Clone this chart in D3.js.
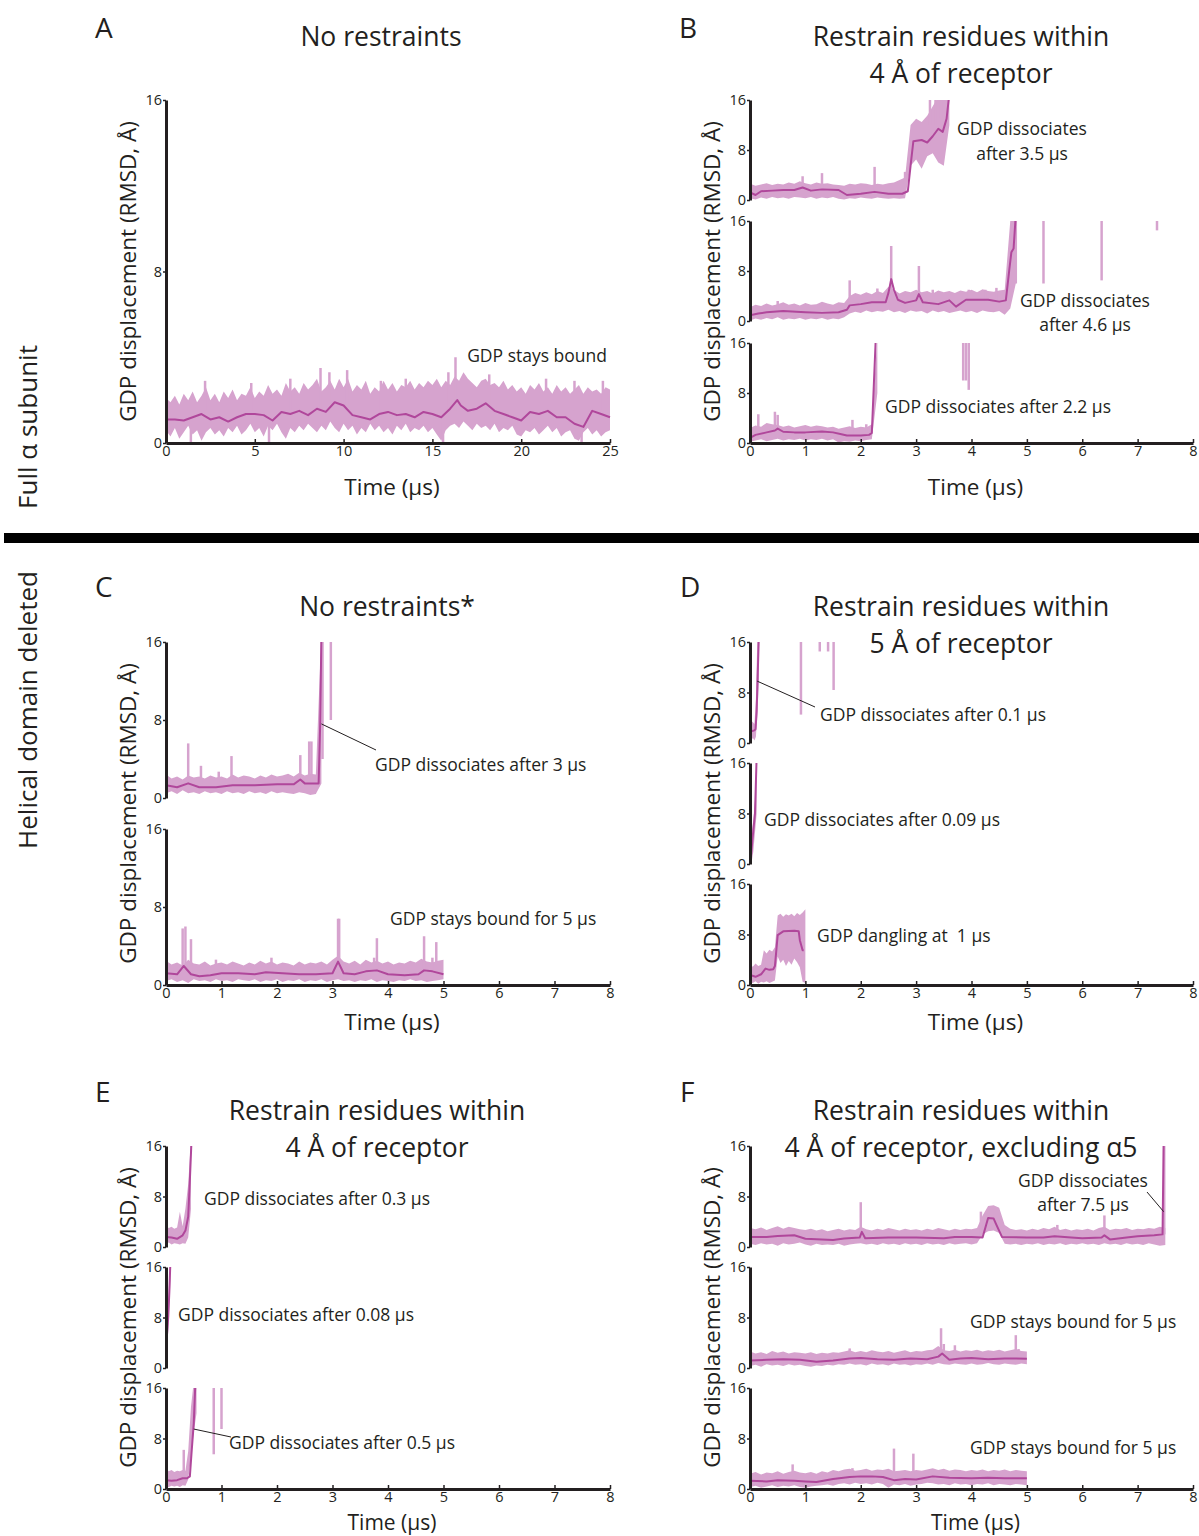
<!DOCTYPE html>
<html>
<head>
<meta charset="utf-8">
<script src="https://cdn.jsdelivr.net/npm/d3@7"></script>
<style>
  body { margin: 0; background: #fff; }
  text { font-family: 'Open Sans', sans-serif; fill: #231f20; }
</style>
</head>
<body>
<svg id="fig" width="1199" height="1536"></svg>
<script>
// ---------- data (RMSD in Å, time in µs) ----------
// each trace: smoothed line as [t, value], raw band as upper/lower values spread evenly over [0, end],
// spikes/fragments of the raw trace as [t, from, to]

// A - full alpha, no restraints
var aMean = [[0,1.1],[0.5,1.1],[1,1.05],[1.5,1.2],[2,1.35],[2.5,1.1],[3,1.2],[3.5,1.0],[4,1.2],[4.5,1.35],[5,1.35],[5.5,1.3],[6,1.05],[6.5,1.45],[7,1.35],[7.5,1.5],[8,1.3],[8.5,1.6],[9,1.45],[9.5,1.9],[10,1.75],[10.5,1.3],[11,1.2],[11.5,1.1],[12,1.35],[12.5,1.45],[13,1.3],[13.5,1.35],[14,1.2],[14.5,1.45],[15,1.35],[15.5,1.2],[16,1.6],[16.4,2.0],[16.6,1.75],[17,1.5],[17.5,1.6],[18,1.85],[18.5,1.5],[19,1.35],[19.5,1.2],[20,1.05],[20.5,1.45],[21,1.35],[21.5,1.5],[22,1.2],[22.5,1.2],[23,0.9],[23.5,0.75],[24,1.5],[24.5,1.35],[25,1.2]];
var aHi = [2.1,1.9,2.2,1.8,2.3,2.0,2.4,1.9,2.2,2.6,2.0,2.3,1.9,2.4,2.1,2.5,2.0,2.3,2.2,2.6,2.1,2.4,2.2,2.7,2.3,2.5,2.2,2.8,2.4,2.6,2.3,2.8,2.5,2.7,3.0,2.4,2.6,2.9,2.5,3.0,2.6,3.0,2.4,2.7,2.5,2.9,2.3,2.6,2.4,2.9,2.5,2.8,2.4,2.7,2.6,2.9,2.5,2.8,2.6,2.9,2.7,3.0,2.6,2.9,2.7,3.1,2.9,3.3,3.0,2.8,2.6,2.9,3.0,2.7,2.8,2.6,2.9,2.5,2.7,2.4,2.6,2.3,2.7,2.5,2.8,2.4,2.6,2.3,2.7,2.4,2.6,2.3,2.5,2.7,2.3,2.6,2.4,2.5,2.3,2.6,2.5];
var aLo = [0.6,0.3,0.7,0.2,0.5,0.8,0.4,0.6,0.1,0.5,0.7,0.4,0.6,0.3,0.7,0.5,0.8,0.4,0.6,0.9,0.5,0.7,0.3,0.8,0.6,0.9,0.5,0.2,0.7,0.5,0.8,0.6,0.9,0.7,0.5,0.8,0.6,1.0,0.7,0.5,0.9,0.6,0.8,0.4,0.7,0.5,0.9,0.6,0.8,0.5,0.7,0.4,0.8,0.6,0.9,0.5,0.7,0.6,0.8,0.5,0.7,0.4,0.1,0.6,0.8,0.9,0.7,1.0,0.8,0.6,0.9,0.7,0.8,0.6,0.9,0.5,0.7,0.6,0.8,0.4,0.3,0.6,0.5,0.7,0.4,0.6,0.8,0.5,0.7,0.3,0.5,0.6,0.2,0.1,0.5,0.7,0.4,0.6,0.3,0.5,0.6];
var aSpikes = [[2.2,1.5,2.9],[4.8,1.5,2.8],[7.0,1.5,3.0],[8.7,1.5,3.5],[9.2,1.5,3.3],[10.2,1.5,3.4],[12.1,1.5,2.9],[13.5,1.5,3.0],[15.9,1.5,3.3],[16.3,1.5,4.0],[18.2,1.5,3.2],[21.4,1.5,3.0],[23.0,1.5,2.9],[24.6,1.5,2.9],[1.4,0,1],[5.8,0,1],[15.6,0,1],[23.4,0,1]];

// B - full alpha, 4 Å restraints, three runs
var b1Mean = [[0,1.2],[0.1,0.8],[0.2,1.4],[0.4,1.5],[0.6,1.6],[0.8,1.6],[0.95,2.0],[1.1,1.5],[1.3,1.7],[1.6,1.6],[1.75,0.8],[2.0,1.0],[2.25,1.3],[2.5,1.0],[2.75,1.0],[2.85,1.4],[2.9,5.5],[2.95,9.4],[3.1,9.6],[3.2,9.2],[3.3,10.2],[3.4,11.4],[3.48,10.9],[3.55,13.0],[3.6,17]];
var b1Hi = [2.6,2.3,2.5,2.7,2.4,2.6,2.5,2.8,2.6,3.0,2.7,2.5,2.8,2.6,2.7,2.5,2.4,2.3,2.6,2.5,2.7,2.6,2.4,2.6,2.5,2.7,2.8,3.2,3.6,12.0,13.0,12.5,13.5,15.0,16.5,17,17];
var b1Lo = [0.3,0.1,0.4,0.2,0.5,0.3,0.4,0.2,0.5,0.4,0.3,0.5,0.2,0.4,0.3,0.5,0.2,0.1,0.3,0.2,0.4,0.3,0.2,0.4,0.3,0.2,0.3,0.2,0.3,5.5,6.5,5.0,7.0,7.5,6.0,5.5,12];
var b1Spikes = [[0.95,1.5,3.8],[1.3,1.5,4.3],[2.25,1.2,5.3],[2.8,1.2,4.5],[3.25,12,16.5],[3.35,12,16.5],[3.45,13,17]];

var b2Mean = [[0,0.9],[0.15,1.2],[0.3,1.4],[0.6,1.6],[1.0,1.4],[1.3,1.3],[1.6,1.4],[1.75,1.8],[1.8,2.5],[2.0,2.7],[2.2,3.0],[2.45,3.0],[2.5,4.5],[2.55,6.7],[2.6,5.0],[2.67,3.4],[2.8,2.9],[3.0,3.3],[3.05,4.3],[3.12,3.0],[3.4,2.7],[3.6,3.3],[3.72,2.3],[3.9,3.4],[4.1,3.4],[4.3,3.4],[4.5,3.1],[4.62,3.3],[4.68,8],[4.72,11],[4.76,11.6],[4.8,17]];
var b2Hi = [2.2,2.6,2.4,2.8,2.5,2.7,3.0,2.6,2.8,2.5,2.9,2.6,2.7,3.1,2.8,2.6,3.0,2.9,4.0,4.5,4.2,4.6,4.3,4.8,4.5,5.5,5.0,4.4,4.8,4.6,5.0,4.6,4.8,4.4,4.9,4.6,4.8,4.5,4.9,4.7,5.0,4.6,5.1,4.8,4.7,4.9,5.0,16,17];
var b2Lo = [0.1,0.4,0.2,0.5,0.3,0.6,0.2,0.4,0.3,0.5,0.2,0.4,0.3,0.5,0.2,0.4,0.3,0.6,1.2,1.5,1.3,1.7,1.4,1.6,1.5,1.8,1.4,1.6,1.3,1.7,1.5,1.6,1.2,1.7,1.4,1.6,1.3,1.5,1.7,1.4,1.6,1.3,1.7,1.5,1.4,1.6,1.0,2.0,6.0];
var b2Spikes = [[0.5,1.5,3.2],[1.8,2.5,6.5],[2.3,3,5.2],[2.55,4,12],[3.05,3,8.8],[3.3,3,5.0],[3.95,3,5.0],[4.25,3,5.0],[4.45,3,5.3],[4.77,10,16.5],[4.8,6,16.5],[5.3,6,16.5],[6.35,6.5,16.5],[7.35,14.5,16.5]];

var b3Mean = [[0,0.8],[0.1,1.3],[0.3,1.7],[0.45,2.0],[0.5,2.3],[0.6,1.8],[0.8,1.7],[1.0,1.7],[1.3,1.85],[1.5,1.7],[1.65,1.4],[1.75,1.2],[2.0,1.2],[2.15,1.3],[2.2,1.6],[2.27,16.5]];
var b3Hi = [2.4,2.8,2.6,3.2,3.0,2.9,2.6,2.8,2.5,2.7,2.9,2.6,2.8,2.7,2.5,2.6,2.3,2.5,2.7,2.4,2.6,2.5,3.0,17];
var b3Lo = [0.2,0.4,0.6,0.3,0.5,0.7,0.4,0.6,0.5,0.7,0.4,0.6,0.5,0.7,0.4,0.6,0.1,0.3,0.2,0.4,0.3,0.5,0.6,8];
var b3Spikes = [[0.15,2,4.6],[0.45,2,5.0],[0.5,2,4.5],[1.85,1.5,3.7],[2.1,1.5,3.0],[3.85,10,16.5],[3.9,10,16.5],[3.95,8.5,16.5]];

// C - helical domain deleted, no restraints
var c1Mean = [[0,1.3],[0.2,1.1],[0.4,1.5],[0.6,1.1],[0.9,1.1],[1.2,1.3],[1.6,1.3],[2.0,1.4],[2.3,1.4],[2.42,1.9],[2.5,1.5],[2.75,1.5],[2.78,8],[2.8,17]];
var c1Hi = [2.4,2.0,2.2,1.9,2.3,2.1,2.2,2.0,2.3,2.1,2.2,2.0,2.4,2.1,2.3,2.2,2.0,2.3,2.1,2.4,2.2,2.3,2.5,2.2,2.6,2.3,2.5,2.4,17];
var c1Lo = [0.5,0.7,0.4,0.8,0.5,0.6,0.4,0.7,0.5,0.6,0.4,0.7,0.5,0.6,0.4,0.7,0.5,0.6,0.4,0.7,0.5,0.6,0.5,0.4,0.6,0.5,0.3,0.4,1.5];
var c1Spikes = [[0.4,1.5,5.6],[0.63,1.3,3.3],[0.95,1.3,2.7],[1.18,1.3,4.3],[2.42,1.5,4.4],[2.58,1.5,5.8],[2.62,1.5,5.8],[2.82,4.0,16.5],[2.97,8,16.5]];

var c2Mean = [[0,1.2],[0.2,1.1],[0.32,1.95],[0.45,1.1],[0.6,0.9],[0.8,1.0],[1.0,1.2],[1.3,1.2],[1.6,1.1],[1.8,1.3],[2.1,1.2],[2.4,1.1],[2.7,1.1],[3.0,1.2],[3.1,2.4],[3.2,1.2],[3.4,1.1],[3.6,1.4],[3.8,1.5],[4.0,1.1],[4.3,1.0],[4.55,1.1],[4.65,1.5],[4.8,1.4],[5.0,1.1]];
var c2Hi = [2.5,2.1,2.3,2.0,2.6,2.2,2.1,2.4,2.0,2.2,2.3,2.1,2.4,2.2,2.0,2.3,2.1,2.5,2.2,2.4,2.1,2.3,2.2,2.0,2.4,2.1,2.3,2.2,2.4,2.1,2.6,3.0,2.4,2.2,2.5,2.1,2.6,2.3,2.5,2.2,2.4,2.1,2.3,2.2,2.5,2.3,2.7,2.4,2.3,2.5,2.6];
var c2Lo = [0.4,0.6,0.3,0.5,0.2,0.6,0.4,0.5,0.3,0.6,0.4,0.5,0.3,0.6,0.5,0.4,0.6,0.3,0.5,0.4,0.6,0.3,0.5,0.4,0.6,0.3,0.5,0.4,0.6,0.3,0.5,0.6,0.4,0.5,0.3,0.5,0.4,0.6,0.3,0.5,0.4,0.3,0.5,0.4,0.6,0.4,0.5,0.3,0.4,0.5,0.6];
var c2Spikes = [[0.3,1.5,5.8],[0.35,1.5,6.0],[0.45,1.2,4.7],[0.9,1.2,2.6],[1.9,1.2,2.8],[3.1,2,6.8],[3.12,2,6.8],[3.75,1.5,2.8],[3.8,1.5,4.8],[4.65,1.5,5.0],[4.8,1.5,2.8],[4.87,1.5,4.4]];

// D - helical domain deleted, 5 Å restraints
var d1Mean = [[0,1.8],[0.04,1.9],[0.08,2.0],[0.1,2.2],[0.12,5],[0.14,11],[0.16,17]];
var d1Hi = [2.5,3.5,3.3,3.0,7,17,17];
var d1Lo = [0.3,0.5,0.8,0.4,1.0,4.5,10];
var d1Spikes = [[0.92,4.5,16.5],[1.26,14.5,16.5],[1.41,14.5,16.5],[1.51,8.4,16.5]];

var d2Mean = [[0,2.3],[0.02,1.5],[0.05,4.4],[0.09,8],[0.12,17]];
var d2Hi = [4,5,7,10,17];
var d2Lo = [0,0.3,2,5,8];
var d2Spikes = [];

var d3Mean = [[0,1.6],[0.1,1.3],[0.2,1.7],[0.28,2.6],[0.35,2.4],[0.42,2.5],[0.45,3.0],[0.5,7.9],[0.6,8.5],[0.8,8.6],[0.88,8.5],[0.9,7.1],[0.95,5.5],[0.97,5.5]];
var d3Hi = [3.3,2.9,3.4,3.0,3.2,5.5,5.0,5.6,5.3,6.0,11.0,11.3,10.8,11.2,11.0,11.3,10.9,11.4,11.1,11.5,12.0];
var d3Lo = [0.5,0.3,0.6,0.2,0.5,0.4,0.6,0.3,0.5,0.7,4.5,3.5,4.0,3.0,3.8,3.2,4.2,3.6,2.8,0.5,0.3];
var d3Spikes = [];

// E - helical domain deleted, 4 Å restraints
var e1Mean = [[0,1.6],[0.1,1.5],[0.2,1.3],[0.3,1.85],[0.35,2.6],[0.4,4.8],[0.43,10.6],[0.46,17]];
var e1Hi = [3.3,3.0,3.2,2.9,3.1,5.6,3.3,6.1,10,17];
var e1Lo = [0.5,0.7,0.4,0.6,0.5,0.4,0.6,0.5,1.5,6];
var e1Spikes = [];

var e2Mean = [[0,3.9],[0.02,5.5],[0.04,8.1],[0.06,12],[0.08,17]];
var e2Hi = [6,8,11,14,17];
var e2Lo = [1,3,6,10,14];
var e2Spikes = [];

var e3Mean = [[0,1.4],[0.1,1.3],[0.2,1.4],[0.3,1.7],[0.38,1.7],[0.43,2.0],[0.46,5.7],[0.5,10.4],[0.53,17]];
var e3Hi = [3.2,2.8,3.0,2.7,2.9,2.8,3.0,2.9,6.0,13,17,17];
var e3Lo = [0.4,0.3,0.5,0.4,0.5,0.3,0.6,0.5,1.5,5,9,12];
var e3Spikes = [[0.32,1.5,6.2],[0.86,5.5,16.5],[1.0,9.5,16.5]];

// F - helical domain deleted, 4 Å restraints excluding alpha5
var f1Mean = [[0,1.6],[0.3,1.6],[0.5,1.75],[0.8,1.85],[1.0,1.3],[1.3,1.2],[1.5,1.1],[1.7,1.35],[1.98,1.5],[2.02,2.4],[2.08,1.4],[2.5,1.5],[3.0,1.5],[3.5,1.4],[3.7,1.6],[4.0,1.6],[4.2,1.5],[4.3,4.6],[4.4,4.5],[4.45,3.5],[4.55,1.6],[5.0,1.5],[5.3,1.5],[5.5,1.7],[5.8,1.5],[6.0,1.4],[6.35,1.5],[6.4,1.85],[6.5,1.2],[6.8,1.5],[7.0,1.7],[7.3,1.85],[7.45,2.0],[7.47,17]];
var f1Hi = [3.0,2.8,3.1,2.7,3.0,3.3,2.9,3.2,3.0,2.8, 2.7,2.9,2.6,2.8,2.5,2.7,2.9,2.6,2.8,2.7, 3.2,2.8,2.6,2.9,2.7,3.0,2.8,2.6,2.9,2.7, 2.8,2.6,2.9,2.7,3.0,2.8,2.6,2.9,2.7,2.9, 2.8,3.0,5.0,6.5,6.6,6.2,3.5,2.9,2.7,2.8, 2.6,2.9,2.7,3.0,2.8,3.2,2.7,2.9,2.6,2.8, 2.7,2.9,2.6,3.0,3.2,2.7,2.9,2.8,3.0,2.7, 2.9,2.8,3.0,2.9,3.2,3.0];
var f1Lo = [0.5,0.3,0.6,0.4,0.5,0.2,0.6,0.4,0.5,0.7, 0.4,0.2,0.5,0.3,0.4,0.3,0.5,0.2,0.4,0.5, 0.6,0.4,0.5,0.3,0.6,0.4,0.5,0.3,0.6,0.4, 0.5,0.3,0.6,0.4,0.5,0.3,0.6,0.4,0.5,0.6, 0.4,0.6,2.0,2.5,2.6,2.2,0.5,0.4,0.5,0.3, 0.5,0.4,0.6,0.3,0.5,0.4,0.6,0.3,0.5,0.4, 0.6,0.4,0.5,0.3,0.6,0.4,0.5,0.3,0.6,0.4, 0.5,0.3,0.6,0.4,0.2,0.3];
var f1Spikes = [[2.0,1.5,7.1],[4.17,1.5,5.6],[5.55,1.5,3.5],[6.4,1.5,5.0],[7.48,2,16.5]];

var f2Mean = [[0,1.2],[0.3,1.3],[0.6,1.4],[0.9,1.3],[1.2,1.0],[1.5,1.2],[1.8,1.5],[2.0,1.6],[2.3,1.4],[2.6,1.3],[2.9,1.5],[3.2,1.4],[3.4,1.8],[3.47,2.3],[3.6,1.3],[3.8,1.5],[4.0,1.6],[4.3,1.4],[4.6,1.5],[4.8,1.5],[5.0,1.45]];
var f2Hi = [2.6,2.3,2.5,2.2,2.7,2.4,2.6,2.3,2.5,2.4, 2.3,2.5,2.2,2.4,2.3,2.5,2.4,2.6,2.8,2.5, 2.7,2.5,2.8,2.6,2.5,2.7,2.4,2.6,2.8,2.5, 2.7,2.6,2.8,2.9,3.5,2.8,2.7,2.9,2.6,2.8, 2.7,2.9,2.6,2.8,2.7,2.9,2.6,2.8,3.0,2.7,2.6];
var f2Lo = [0.3,0.5,0.2,0.6,0.4,0.5,0.3,0.6,0.4,0.5, 0.3,0.2,0.4,0.3,0.5,0.4,0.6,0.5,0.7,0.5, 0.6,0.4,0.7,0.5,0.6,0.4,0.7,0.5,0.6,0.4, 0.6,0.5,0.7,0.5,0.8,0.6,0.5,0.7,0.6,0.5, 0.7,0.5,0.6,0.8,0.6,0.5,0.7,0.6,0.5,0.7,0.6];
var f2Spikes = [[1.8,1.5,3.1],[3.45,2,6.3],[3.5,2,3.8],[3.7,1.5,3.6],[4.8,1.5,5.2],[4.85,1.5,3.0]];

var f3Mean = [[0,1.3],[0.3,1.2],[0.5,1.4],[0.8,1.3],[1.0,1.2],[1.2,1.1],[1.5,1.6],[1.8,1.9],[2.0,2.0],[2.2,2.0],[2.4,1.9],[2.6,1.4],[2.8,1.6],[3.0,1.5],[3.3,2.0],[3.6,1.8],[4.0,1.7],[4.3,1.8],[4.6,1.7],[5.0,1.7]];
var f3Hi = [2.4,2.7,2.3,2.6,2.5,2.8,2.4,2.7,2.9,2.6, 2.5,2.7,2.4,2.8,2.6,3.0,2.8,3.1,3.2,2.9, 3.0,3.2,2.9,3.1,3.0,3.2,2.8,2.9,3.0,2.8, 3.0,2.9,3.1,3.3,3.0,3.2,2.9,3.1,3.0,2.8, 3.0,2.9,3.1,2.8,3.0,2.9,3.1,2.8,3.0,2.9,2.8];
var f3Lo = [0.3,0.5,0.2,0.4,0.6,0.3,0.5,0.4,0.6,0.3, 0.2,0.4,0.5,0.6,0.7,0.5,0.8,0.9,0.7,1.0, 0.8,0.9,0.7,1.0,0.8,0.2,0.7,0.6,0.8,0.5, 0.7,0.8,1.0,0.9,0.7,0.8,0.6,0.9,0.7,0.8, 0.6,0.8,0.7,0.9,0.6,0.8,0.7,0.6,0.8,0.7,0.6];
var f3Spikes = [[0.77,1.5,3.9],[1.85,1.5,3.3],[2.6,1.5,6.4],[2.95,1.5,5.6]];

var yTicks = [0, 8, 16];
var xTicks25 = [0, 5, 10, 15, 20, 25];
var xTicks8 = [0, 1, 2, 3, 4, 5, 6, 7, 8];

// ---------- layout ----------
var ink = "#231f20", bandColor = "#d6a3ce", lineColor = "#b0479b";
var svg = d3.select("#fig");

function tr(mean, hi, lo, end, spikes) { return {mean: mean, hi: hi, lo: lo, end: end, spikes: spikes}; }

var rowsTop = [[100,443]];
var rows3Top = [[100,200],[221,321],[343,443]];
var rows2Mid = [[642,798],[829,985]];
var rows3Mid = [[642,743],[763,864],[884,985]];
var rows3Bot = [[1146,1247],[1267,1368],[1388,1489]];

var panels = [
  {letter:"A", lx:95, ly:38, title:["No restraints"], tx:381, ty:46, x0:166, x1:610, xMax:25, xTicks:xTicks25, rows:rowsTop, xLabelY:495, xLabelSize:22.5, yLabelX:128,
   traces:[tr(aMean,aHi,aLo,25,aSpikes)],
   notes:[[{t:"GDP stays bound", x:607, y:362, a:"end"}]]},
  {letter:"B", lx:679, ly:38, title:["Restrain residues within","4 Å of receptor"], tx:961, ty:46, x0:750, x1:1193, xMax:8, xTicks:xTicks8, rows:rows3Top, xLabelY:495, xLabelSize:22.5, yLabelX:712,
   traces:[tr(b1Mean,b1Hi,b1Lo,3.6,b1Spikes), tr(b2Mean,b2Hi,b2Lo,4.8,b2Spikes), tr(b3Mean,b3Hi,b3Lo,2.3,b3Spikes)],
   notes:[[{t:"GDP dissociates", x:1022, y:135, a:"middle"},{t:"after 3.5 μs", x:1022, y:160, a:"middle"}],
          [{t:"GDP dissociates", x:1085, y:307, a:"middle"},{t:"after 4.6 μs", x:1085, y:331, a:"middle"}],
          [{t:"GDP dissociates after 2.2 μs", x:885, y:413, a:"start"}]]},
  {letter:"C", lx:95, ly:597, title:["No restraints*"], tx:387, ty:616, x0:166, x1:610, xMax:8, xTicks:xTicks8, rows:rows2Mid, xLabelY:1030, xLabelSize:22.5, yLabelX:128,
   traces:[tr(c1Mean,c1Hi,c1Lo,2.8,c1Spikes), tr(c2Mean,c2Hi,c2Lo,5,c2Spikes)],
   notes:[[{t:"GDP dissociates after 3 μs", x:375, y:771, a:"start"}],
          [{t:"GDP stays bound for 5 μs", x:390, y:925, a:"start"}]],
   leaders:[{row:0, t:2.8, v:7.6, x:376, y:750}]},
  {letter:"D", lx:680, ly:597, title:["Restrain residues within","5 Å of receptor"], tx:961, ty:616, x0:750, x1:1193, xMax:8, xTicks:xTicks8, rows:rows3Mid, xLabelY:1030, xLabelSize:22.5, yLabelX:712,
   traces:[tr(d1Mean,d1Hi,d1Lo,0.16,d1Spikes), tr(d2Mean,d2Hi,d2Lo,0.12,d2Spikes), tr(d3Mean,d3Hi,d3Lo,1.0,d3Spikes)],
   notes:[[{t:"GDP dissociates after 0.1 μs", x:820, y:721, a:"start"}],
          [{t:"GDP dissociates after 0.09 μs", x:764, y:826, a:"start"}],
          [{t:"GDP dangling at  1 μs", x:817, y:942, a:"start"}]],
   leaders:[{row:0, t:0.13, v:9.8, x:815, y:707}]},
  {letter:"E", lx:95, ly:1102, title:["Restrain residues within","4 Å of receptor"], tx:377, ty:1120, x0:166, x1:610, xMax:8, xTicks:xTicks8, rows:rows3Bot, xLabelY:1530, xLabelSize:21, yLabelX:128,
   traces:[tr(e1Mean,e1Hi,e1Lo,0.45,e1Spikes), tr(e2Mean,e2Hi,e2Lo,0.08,e2Spikes), tr(e3Mean,e3Hi,e3Lo,0.55,e3Spikes)],
   notes:[[{t:"GDP dissociates after 0.3 μs", x:204, y:1205, a:"start"}],
          [{t:"GDP dissociates after 0.08 μs", x:178, y:1321, a:"start"}],
          [{t:"GDP dissociates after 0.5 μs", x:229, y:1449, a:"start"}]],
   leaders:[{row:2, t:0.5, v:9.5, x:231, y:1437}]},
  {letter:"F", lx:680, ly:1102, title:["Restrain residues within","4 Å of receptor, excluding α5"], tx:961, ty:1120, x0:750, x1:1193, xMax:8, xTicks:xTicks8, rows:rows3Bot, xLabelY:1530, xLabelSize:21, yLabelX:712,
   traces:[tr(f1Mean,f1Hi,f1Lo,7.5,f1Spikes), tr(f2Mean,f2Hi,f2Lo,5,f2Spikes), tr(f3Mean,f3Hi,f3Lo,5,f3Spikes)],
   notes:[[{t:"GDP dissociates", x:1083, y:1187, a:"middle"},{t:"after 7.5 μs", x:1083, y:1211, a:"middle"}],
          [{t:"GDP stays bound for 5 μs", x:970, y:1328, a:"start"}],
          [{t:"GDP stays bound for 5 μs", x:970, y:1454, a:"start"}]],
   leaders:[{row:0, t:7.47, v:5.6, x:1147, y:1192}]}
];

function styleAxis(g) {
  g.select(".domain").attr("stroke", ink).attr("stroke-width", 3);
  g.selectAll(".tick line").attr("stroke", ink).attr("stroke-width", 1.5);
  g.selectAll(".tick text").style("font-size", "14.5px").attr("fill", ink);
}

panels.forEach(function(p, pi) {
  var x = d3.scaleLinear().domain([0, p.xMax]).range([p.x0, p.x1]);

  svg.append("text").attr("x", p.lx).attr("y", p.ly).style("font-size", "28px").text(p.letter);
  p.title.forEach(function(t, i) {
    svg.append("text").attr("x", p.tx).attr("y", p.ty + i * 37)
      .attr("text-anchor", "middle").style("font-size", "26.5px").text(t);
  });

  var scales = [];
  p.rows.forEach(function(r, ri) {
    var y = d3.scaleLinear().domain([0, 16]).range([r[1], r[0]]);
    scales.push(y);
    var tr = p.traces[ri];
    var id = "clip" + pi + "_" + ri;
    svg.append("clipPath").attr("id", id)
      .append("rect").attr("x", p.x0).attr("y", r[0]).attr("width", p.x1 - p.x0 + 3).attr("height", r[1] - r[0]);
    var g = svg.append("g").attr("clip-path", "url(#" + id + ")");

    var n = tr.hi.length;
    var bandT = function(i) { return tr.end * i / (n - 1); };
    var area = d3.area()
      .x(function(d, i) { return x(bandT(i)); })
      .y0(function(d, i) { return y(tr.lo[i]); })
      .y1(function(d) { return y(d); });
    g.append("path").datum(tr.hi).attr("d", area).attr("fill", bandColor);

    g.selectAll("line.spike").data(tr.spikes).enter().append("line")
      .attr("class", "spike")
      .attr("x1", function(d) { return x(d[0]); }).attr("x2", function(d) { return x(d[0]); })
      .attr("y1", function(d) { return y(d[1]); }).attr("y2", function(d) { return y(d[2]); })
      .attr("stroke", bandColor).attr("stroke-width", 2.5);

    var line = d3.line().x(function(d) { return x(d[0]); }).y(function(d) { return y(d[1]); });
    g.append("path").datum(tr.mean).attr("d", line)
      .attr("fill", "none").attr("stroke", lineColor).attr("stroke-width", 2).attr("stroke-linejoin", "round");

    var ya = svg.append("g").attr("transform", "translate(" + p.x0 + ",0)")
      .call(d3.axisLeft(y).tickValues(yTicks).tickSize(3).tickSizeOuter(0).tickPadding(1));
    styleAxis(ya);

    if (ri === p.rows.length - 1) {
      var xa = svg.append("g").attr("transform", "translate(0," + r[1] + ")")
        .call(d3.axisBottom(x).tickValues(p.xTicks).tickSize(-4).tickSizeOuter(0).tickPadding(3));
      styleAxis(xa);
    }

    p.notes[ri].forEach(function(nt) {
      svg.append("text").attr("x", nt.x).attr("y", nt.y).attr("text-anchor", nt.a)
        .style("font-size", "17.5px").style("white-space", "pre").text(nt.t);
    });
  });

  (p.leaders || []).forEach(function(l) {
    svg.append("line")
      .attr("x1", x(l.t)).attr("y1", scales[l.row](l.v))
      .attr("x2", l.x).attr("y2", l.y)
      .attr("stroke", ink).attr("stroke-width", 1);
  });

  var top = p.rows[0][0], bottom = p.rows[p.rows.length - 1][1];
  svg.append("text")
    .attr("transform", "translate(" + p.yLabelX + "," + (top + bottom) / 2 + ") rotate(-90)")
    .attr("text-anchor", "middle").attr("dy", "0.35em").style("font-size", "22.5px")
    .text("GDP displacement (RMSD, Å)");
  svg.append("text").attr("x", (p.x0 + p.x1) / 2 + 4).attr("y", p.xLabelY)
    .attr("text-anchor", "middle").style("font-size", p.xLabelSize + "px").text("Time (μs)");
});

// row group labels and separator
svg.append("text").attr("transform", "translate(28,427) rotate(-90)")
  .attr("text-anchor", "middle").attr("dy", "0.35em").style("font-size", "26px").text("Full α subunit");
svg.append("text").attr("transform", "translate(28,710) rotate(-90)")
  .attr("text-anchor", "middle").attr("dy", "0.35em").style("font-size", "26px").text("Helical domain deleted");
svg.append("rect").attr("x", 4).attr("y", 533).attr("width", 1195).attr("height", 10).attr("fill", "#000");
</script>
</body>
</html>
